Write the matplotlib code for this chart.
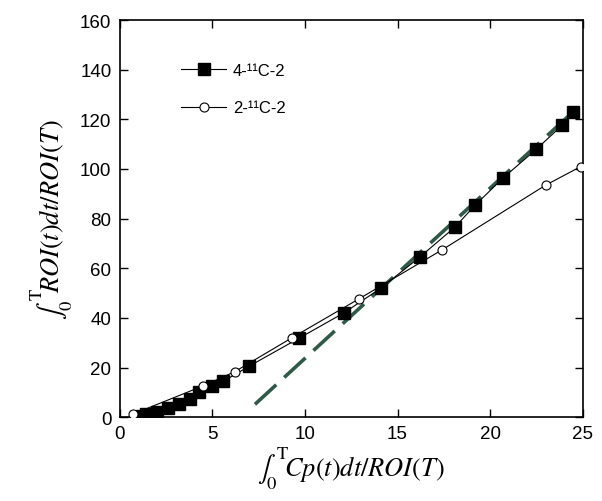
import matplotlib.pyplot as plt
import numpy as np

plt.rcParams['font.family'] = ['Liberation Sans', 'DejaVu Sans']
plt.rcParams['mathtext.fontset'] = 'stix'

# 4-11C-2 (filled squares)
sq_x = [1.2, 1.4, 2.0, 2.6, 3.2, 3.8, 4.3, 5.0, 5.6, 7.0, 9.7, 12.1, 14.1,
        16.2, 18.1, 19.2, 20.7, 22.5, 23.9, 24.5]
sq_y = [0.5, 1.2, 2.0, 3.6, 5.2, 7.3, 10.0, 12.5, 14.5, 20.6, 31.9, 42.0, 52.0,
        64.5, 76.6, 85.5, 96.4, 108.0, 117.7, 123.0]

# 2-11C-2 (open circles)
ci_x = [0.7, 4.5, 6.2, 9.3, 12.9, 17.4, 23.0, 24.9]
ci_y = [1.2, 12.6, 18.3, 32.0, 47.6, 67.4, 93.5, 101.0]

# linear fit of the late 4-11C-2 points
fit_x = [7.3, 24.5]
fit_slope = 6.86
fit_icpt = -44.9

fig = plt.figure(figsize=(6.02, 5.02), dpi=100)
ax = fig.add_axes([0.199, 0.167, 0.769, 0.791])

fx = np.array(fit_x)
ax.plot(fx, fit_slope * fx + fit_icpt, color='#2f5a48', lw=2.6,
        dashes=(8, 3), zorder=2)

ax.plot(sq_x, sq_y, '-', color='black', lw=0.8, marker='s', ms=9,
        mfc='black', mec='black', label='4-\u00b9\u00b9C-2', zorder=3)
ax.plot(ci_x, ci_y, '-', color='black', lw=0.8, marker='o', ms=6.5,
        mfc='white', mec='black', mew=0.8, label='2-\u00b9\u00b9C-2', zorder=4)

ax.set_xlim(0, 25)
ax.set_ylim(0, 160)
ax.set_xticks([0, 5, 10, 15, 20, 25])
ax.set_yticks(np.arange(0, 161, 20))
ax.tick_params(direction='in', top=True, right=True, length=6, width=1,
               labelsize=13.5, pad=6)
for s in ax.spines.values():
    s.set_linewidth(1.2)

ax.set_xlabel(r'$\int_0^{\mathrm{T}}\!Cp(t)dt/ROI(T)$', fontsize=19, labelpad=2)
ax.set_ylabel(r'$\int_0^{\mathrm{T}}\!ROI(t)dt/ROI(T)$', fontsize=19, labelpad=4)

leg = ax.legend(loc='upper left', bbox_to_anchor=(0.1, 0.93), frameon=False,
                fontsize=12, handlelength=2.7, handletextpad=0.4,
                labelspacing=1.35)

fig.savefig('out.png', dpi=100)
